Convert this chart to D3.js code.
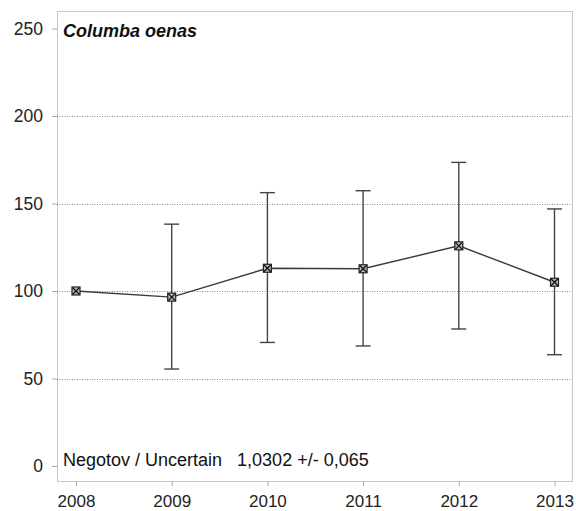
<!DOCTYPE html>
<html><head><meta charset="utf-8">
<script src="https://cdn.jsdelivr.net/npm/d3@7"></script>
<style>
html,body{margin:0;padding:0;background:#fff;}
svg{display:block;font-family:"Liberation Sans",Arial,sans-serif;}
</style></head>
<body>
<svg id="chart" width="576" height="511"></svg>
<script>
const years = [2008, 2009, 2010, 2011, 2012, 2013];
const indexValues = [100, 96.5, 113, 112.7, 125.8, 105];
const lowerValues = [null, 55.4, 70.6, 68.6, 78.3, 63.6];
const upperValues = [null, 138.2, 156.2, 157.3, 173.5, 146.9];
const yTicks = [0, 50, 100, 150, 200, 250];
const gridTicks = [50, 100, 150, 200];
const speciesName = "Columba oenas";
const trendText = "Negotov / Uncertain   1,0302 +/- 0,065";

const svg = d3.select("#chart");
const plot = {left: 57, right: 572, top: 11, bottom: 481};
const x = d3.scaleLinear().domain([2008, 2013]).range([76, 554.5]);
const y = d3.scaleLinear().domain([0, 250]).range([466, 28.5]);

// plot frame
svg.append("rect")
  .attr("x", plot.left + 0.5).attr("y", plot.top + 0.5)
  .attr("width", plot.right - plot.left).attr("height", plot.bottom - plot.top)
  .attr("fill", "none").attr("stroke", "#c8c8c8").attr("stroke-width", 1);

// grid
svg.append("g").selectAll("line").data(gridTicks).join("line")
  .attr("x1", plot.left).attr("x2", plot.right)
  .attr("y1", d => Math.round(y(d)) + 0.5).attr("y2", d => Math.round(y(d)) + 0.5)
  .attr("stroke", "#8a8a8a").attr("stroke-width", 1).attr("stroke-dasharray", "1,1.5");

// y axis
const yAxis = d3.axisLeft(y).tickValues(yTicks).tickSize(5).tickPadding(9);
const gy = svg.append("g").attr("transform", `translate(${plot.left},0)`).call(yAxis);
gy.select(".domain").remove();
gy.selectAll(".tick line").attr("stroke", "#aaa");
gy.selectAll(".tick text").attr("font-size", "17.5px").attr("fill", "#222")
  .attr("font-family", "Liberation Sans, Arial, sans-serif");

// x axis
const xAxis = d3.axisBottom(x).tickValues(years).tickFormat(d3.format("d")).tickSize(5).tickPadding(8);
const gx = svg.append("g").attr("transform", `translate(0,${plot.bottom + 0.5})`).call(xAxis);
gx.select(".domain").remove();
gx.selectAll(".tick line").attr("stroke", "#aaa");
gx.selectAll(".tick text").attr("font-size", "17px").attr("fill", "#222")
  .attr("font-family", "Liberation Sans, Arial, sans-serif");

// error bars
const data = years.map((yr, i) => ({yr, v: indexValues[i], lo: lowerValues[i], hi: upperValues[i]}));
const eb = svg.append("g").attr("stroke", "#444").attr("stroke-width", 1.4);
data.filter(d => d.lo != null).forEach(d => {
  const cx = x(d.yr);
  eb.append("line").attr("x1", cx).attr("x2", cx).attr("y1", y(d.lo)).attr("y2", y(d.hi));
  eb.append("line").attr("x1", cx - 7.5).attr("x2", cx + 7.5).attr("y1", y(d.lo)).attr("y2", y(d.lo));
  eb.append("line").attr("x1", cx - 7.5).attr("x2", cx + 7.5).attr("y1", y(d.hi)).attr("y2", y(d.hi));
});

// line
svg.append("path").datum(data)
  .attr("d", d3.line().x(d => x(d.yr)).y(d => y(d.v)))
  .attr("fill", "none").attr("stroke", "#3a3a3a").attr("stroke-width", 1.4);

// markers
const m = svg.append("g").selectAll("g").data(data).join("g")
  .attr("transform", d => `translate(${x(d.yr)},${y(d.v)})`);
m.append("rect").attr("x", -4).attr("y", -4).attr("width", 8).attr("height", 8)
  .attr("fill", "#bbb").attr("stroke", "#222").attr("stroke-width", 1.2);
m.append("path").attr("d", "M-3.5,-3.5L3.5,3.5M-3.5,3.5L3.5,-3.5")
  .attr("stroke", "#111").attr("stroke-width", 1.3);

// texts
svg.append("text").attr("x", 63).attr("y", 36.5)
  .attr("font-size", "18px").attr("font-weight", "bold").attr("font-style", "italic")
  .attr("fill", "#111").text(speciesName);
svg.append("text").attr("x", 63).attr("y", 466)
  .attr("font-size", "18px").attr("fill", "#111").attr("xml:space", "preserve")
  .style("white-space", "pre").text(trendText);
</script>
</body></html>
